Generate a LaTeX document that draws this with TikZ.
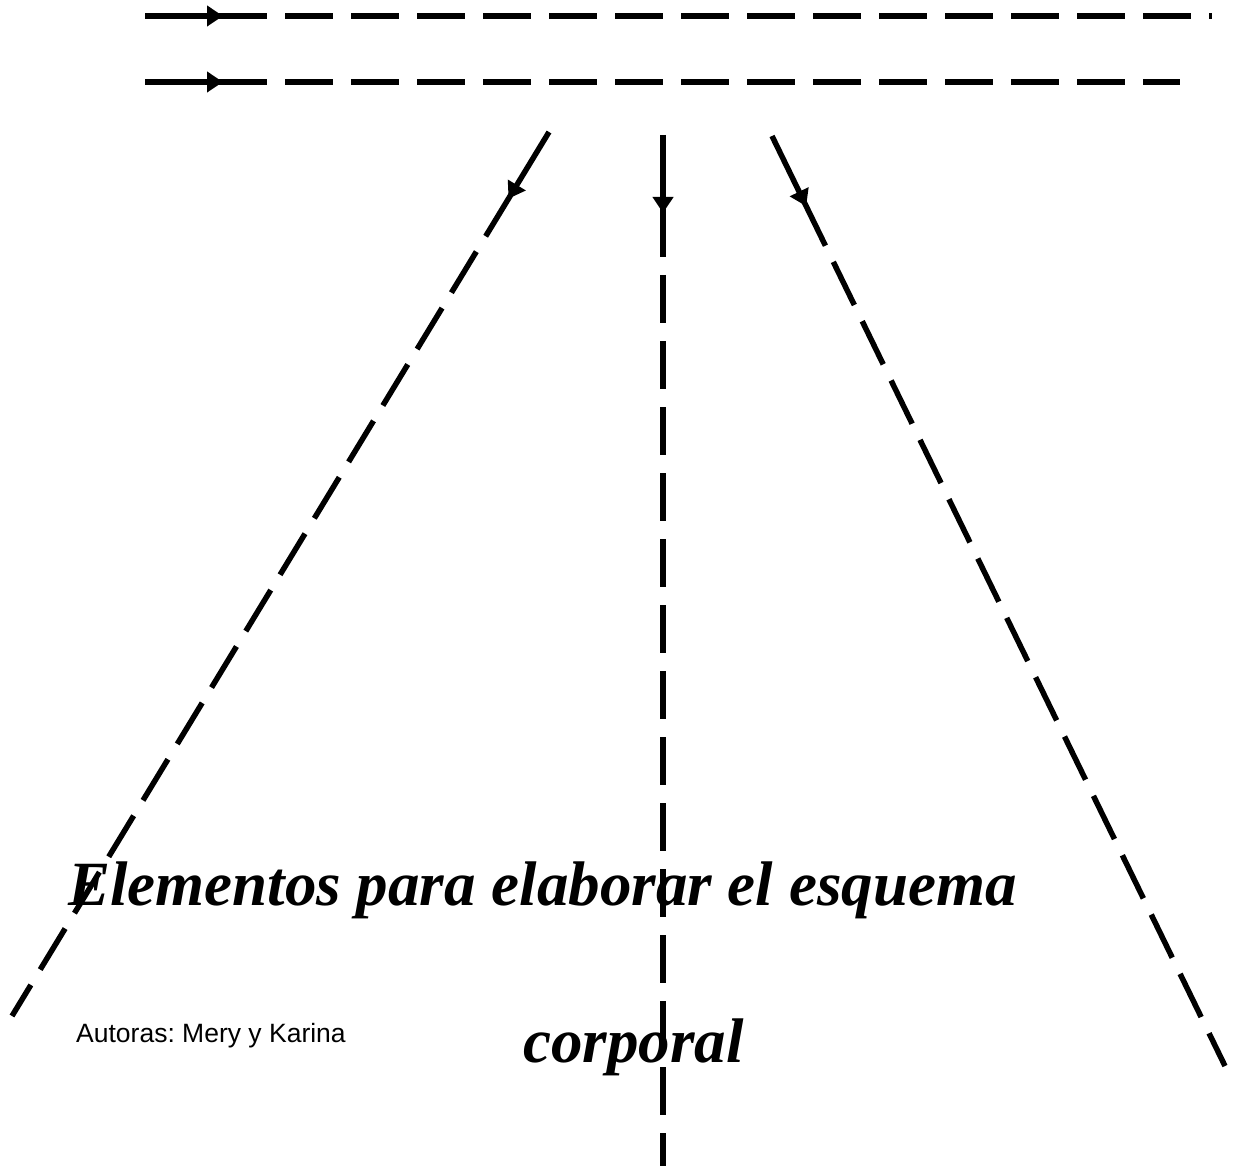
\documentclass[tikz,border=0pt]{standalone}
\usepackage{fontspec}
\setmainfont{Liberation Serif}
\newfontfamily\autfont{Liberation Sans}
\usetikzlibrary{arrows.meta,decorations.markings,calc}
\frenchspacing
\begin{document}
\begin{tikzpicture}[x=1pt,y=-1pt,
  lead/.style={line width=5.5pt, postaction={decorate},
    decoration={markings, mark=at position 78pt with {\arrow{Triangle[length=16pt,width=20pt]}}}},
  trail/.style={line width=5.5pt, dash pattern=on 48pt off 18pt, dash phase=48pt},
  title/.style={font=\fontsize{63}{70}\selectfont\bfseries\itshape, inner sep=0pt, anchor=base west},
  author/.style={font=\autfont\fontsize{26.5}{30}\selectfont, inner sep=0pt, anchor=base west}]
\useasboundingbox (0,0) rectangle (1234,1166);
% texts
\node[title] (t1) at (68,905) {Elementos para elaborar el esquema};
\node[title] (t2) at (523,1062) {corporal};
\node[author] (au) at (76,1042) {Autoras: Mery y Karina};
% end points
\coordinate (h1s) at (145,16);  \coordinate (h1e) at (1212,16);
\coordinate (h2s) at (145,82);  \coordinate (h2e) at (1180,82);
\coordinate (ls) at (549,132);  \coordinate (le) at (12,1016);
\coordinate (vs) at (663,135);  \coordinate (ve) at (663,1166);
\coordinate (rs) at (772,136);  \coordinate (re) at (1225,1066);
\foreach \s/\e in {h1s/h1e, h2s/h2e, ls/le, vs/ve, rs/re}{
  \coordinate (\s m) at ($(\s)!122pt!(\e)$);
  \draw[lead] (\s) -- (\s m);
  \draw[trail] (\s m) -- (\e);
}
\end{tikzpicture}
\end{document}
